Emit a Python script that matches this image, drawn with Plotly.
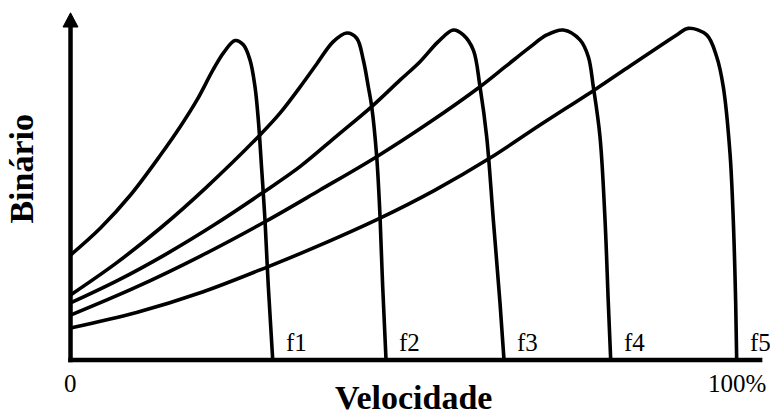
import plotly.graph_objects as go

# Torque–speed characteristics of an induction motor fed at five frequencies.
# Speed in % of rated speed, torque in % of breakdown torque.
speed_f1 = [0, 4.50, 9.00, 13.50, 16.43, 18.98, 21.38, 23.03, 24.68, 25.93, 26.93, 27.68, 28.18, 28.69, 29.18, 29.68, 30.34]
torque_f1 = [31.8, 40.0, 50.0, 62.1, 70.6, 78.8, 87.9, 93.3, 96.8, 95.5, 90.9, 82.8, 72.7, 57.6, 42.4, 22.2, 0]

speed_f2 = [0, 6.75, 13.50, 20.26, 28.43, 31.43, 34.43, 36.94, 39.39, 41.44, 42.94, 43.93, 44.68, 45.19, 45.94, 46.44, 46.84, 47.34]
torque_f2 = [19.7, 29.2, 40.0, 52.1, 68.2, 74.8, 82.7, 89.7, 96.4, 99.1, 97.5, 90.9, 82.8, 76.8, 61.6, 43.4, 22.2, 0]

speed_f3 = [0, 7.17, 14.34, 21.52, 28.69, 34.43, 39.83, 45.19, 49.43, 52.44, 55.14, 57.43, 58.93, 60.44, 61.44, 62.44, 63.44, 64.44, 65.04]
torque_f3 = [17.3, 24.2, 32.1, 40.9, 50.5, 58.6, 67.7, 76.8, 84.8, 90.4, 96.4, 100.0, 98.5, 93.9, 82.8, 67.7, 42.4, 17.3, 0]

speed_f4 = [0, 9.75, 19.51, 29.18, 37.43, 45.94, 53.94, 61.44, 65.19, 68.94, 71.45, 73.94, 76.44, 77.69, 78.44, 79.44, 80.20, 80.69, 81.05]
torque_f4 = [13.6, 22.0, 31.5, 41.9, 51.5, 61.6, 72.1, 82.8, 88.8, 94.8, 98.5, 100.0, 97.0, 91.9, 82.8, 67.7, 42.4, 17.3, 0]

speed_f5 = [0, 9.90, 19.81, 29.68, 37.43, 46.44, 54.69, 62.94, 70.44, 78.95, 83.95, 88.94, 90.95, 92.69, 95.45, 96.95, 97.94, 98.95, 99.44, 99.80, 99.95]
torque_f5 = [9.7, 14.4, 20.6, 28.3, 34.8, 43.0, 51.5, 61.2, 71.2, 82.3, 89.1, 95.8, 98.5, 100.5, 98.5, 91.9, 82.8, 62.6, 42.4, 17.3, 0]

curve_names = ["f1", "f2", "f3", "f4", "f5"]
tick_values = [0, 100]
tick_labels = ["0", "100%"]
x_title = "Velocidade"
y_title = "Binário"

curves = [
    (speed_f1, torque_f1),
    (speed_f2, torque_f2),
    (speed_f3, torque_f3),
    (speed_f4, torque_f4),
    (speed_f5, torque_f5),
]

SERIF = "Liberation Serif, Times New Roman, serif"
X_RANGE = [-10.58, 104.95]
Y_RANGE = [-16.97, 109.09]
PX_X = 770 / (X_RANGE[1] - X_RANGE[0])   # pixels per speed unit

fig = go.Figure()

for name, (sx, ty) in zip(curve_names, curves):
    fig.add_trace(go.Scatter(
        x=sx, y=ty, name=name, mode="lines",
        line=dict(color="black", width=3.6, shape="spline", smoothing=1.0),
        hoverinfo="skip", showlegend=False,
    ))

# Frequency labels just right of each curve's zero-torque point
annotations = []
for name, (sx, ty) in zip(curve_names, curves):
    annotations.append(dict(
        x=sx[-1], y=0, xref="x", yref="y", text=name, showarrow=False,
        xanchor="left", yanchor="bottom", xshift=11, yshift=2,
        font=dict(family=SERIF, size=25, color="black"),
    ))

# Axis tick labels
for v, t in zip(tick_values, tick_labels):
    annotations.append(dict(
        x=v, y=0, xref="x", yref="y", text=t, showarrow=False,
        xanchor="center", yanchor="top", yshift=-8,
        font=dict(family=SERIF, size=25, color="black"),
    ))

# Axis titles
annotations.append(dict(
    x=(tick_values[0] + tick_values[1]) / 2 + 1.5, y=0, xref="x", yref="y",
    text="<b>" + x_title + "</b>", showarrow=False,
    xanchor="center", yanchor="top", yshift=-17,
    font=dict(family=SERIF, size=34, color="black"),
))
annotations.append(dict(
    x=0, y=58, xref="x", yref="y", text="<b>" + y_title + "</b>",
    showarrow=False, textangle=-90, xanchor="right", yanchor="middle",
    xshift=-28,
    font=dict(family=SERIF, size=34, color="black"),
))

# Axes drawn as lines, with an arrowhead on the torque axis
arrow_tip = 105.2
arrow_base = 100.9
half_w = 7.5 / PX_X
shapes = [
    dict(type="line", xref="x", yref="y", x0=0, x1=0, y0=-0.7, y1=arrow_base + 0.3,
         line=dict(color="black", width=4.5)),
    dict(type="line", xref="x", yref="y", x0=-0.35, x1=103.8, y0=0, y1=0,
         line=dict(color="black", width=4.5)),
    dict(type="path", xref="x", yref="y",
         path=f"M {-half_w},{arrow_base} L 0,{arrow_tip} L {half_w},{arrow_base} Z",
         fillcolor="black", line=dict(color="black", width=1)),
]

fig.update_layout(
    width=770, height=416,
    margin=dict(l=0, r=0, t=0, b=0, pad=0),
    paper_bgcolor="white", plot_bgcolor="white",
    xaxis=dict(range=X_RANGE, visible=False, fixedrange=True),
    yaxis=dict(range=Y_RANGE, visible=False, fixedrange=True),
    annotations=annotations,
    shapes=shapes,
)

fig.write_html("out.html", config={"displayModeBar": False})
